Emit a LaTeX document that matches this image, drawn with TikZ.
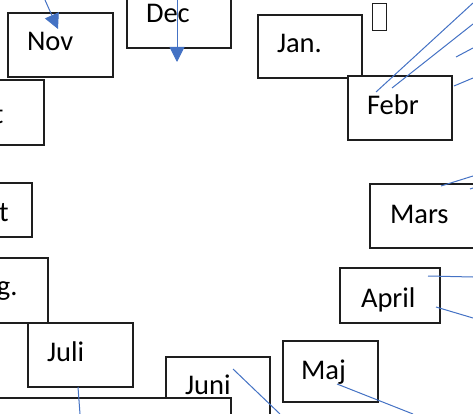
\documentclass[tikz,border=0pt]{standalone}
\usepackage{fontspec}
\setmainfont{Carlito}
\usetikzlibrary{arrows.meta}
\definecolor{linkblue}{RGB}{68,114,196}
\definecolor{boxline}{RGB}{30,30,30}
\begin{document}
\begin{tikzpicture}[x=1pt,y=-1pt,
  box/.style={draw=boxline, line width=1.3pt, fill=white, anchor=north west, inner sep=0pt, outer sep=0pt},
  lbl/.style={font=\fontsize{28.5}{30}\selectfont, anchor=base west, inner sep=0pt, outer sep=0pt},
  conn/.style={draw=linkblue, line width=1pt},
  tip/.style={-{Triangle[length=15pt,width=15pt]}}]
\useasboundingbox (0,0) rectangle (473,414);
\clip (0,0) rectangle (473,414);
% top row
\node[box, minimum width=104pt, minimum height=68pt] (decbox) at (127,-20) {};
\node[lbl] (dec) at (146,23) {Dec};
\node[box, minimum width=105pt, minimum height=64pt] (novbox) at (8,13) {};
\node[lbl] (nov) at (27,51) {Nov};
\node[box, minimum width=104pt, minimum height=63pt] (janbox) at (258,15) {};
\node[lbl] (jan) at (277,53) {Jan.};
\node[box, minimum width=104pt, minimum height=64pt] (febbox) at (348,76) {};
\node[lbl] (feb) at (367,115) {Febr};
\node[box, line width=1pt, minimum width=14pt, minimum height=27pt] (tofu) at (372,4) {};
% left column
\node[box, minimum width=104pt, minimum height=65pt] (tboxa) at (-60,80) {};
\node[lbl] (ta) at (-6,124) {t};
\node[box, minimum width=92pt, minimum height=54pt] (tboxb) at (-60,183) {};
\node[lbl] (tb) at (-1,221) {t};
\node[box, minimum width=108pt, minimum height=65pt] (gbox) at (-60,258) {};
\node[lbl] (g) at (-3,295) {g.};
\node[box, minimum width=105pt, minimum height=64pt] (julbox) at (28,323) {};
\node[lbl] (jul) at (47,361) {Juli};
% bottom
\node[box, minimum width=104pt, minimum height=80pt] (junbox) at (166,357) {};
\node[lbl] (jun) at (185,394) {Juni};
\node[box, minimum width=291pt, minimum height=40pt] (botbox) at (-60,398) {};
\node[box, minimum width=95pt, minimum height=61pt] (majbox) at (283,341) {};
\node[lbl] (maj) at (301,379) {Maj};
% right column
\node[box, minimum width=100pt, minimum height=55pt] (aprbox) at (340,268) {};
\node[lbl] (apr) at (361,307) {April};
\node[box, minimum width=130pt, minimum height=64pt] (marbox) at (370,184) {};
\node[lbl] (mar) at (390,223) {Mars};
% connector end points
\coordinate (novs) at (45,0);
\coordinate (nove) at (58,29);
\coordinate (decs) at (177,0);
\coordinate (dece) at (177,62);
\coordinate (fa1) at (376,92);  \coordinate (fb1) at (473,3);
\coordinate (fa2) at (392,88);  \coordinate (fb2) at (473,24);
\coordinate (fa3) at (456,57);  \coordinate (fb3) at (473,48);
\coordinate (fa4) at (454,86);  \coordinate (fb4) at (473,78);
\coordinate (ma1) at (441,186); \coordinate (mb1) at (473,176);
\coordinate (ma2) at (470,189); \coordinate (mb2) at (473,188);
\coordinate (aa1) at (428,276); \coordinate (ab1) at (473,277);
\coordinate (aa2) at (436,307); \coordinate (ab2) at (473,318);
\coordinate (mja) at (337,384); \coordinate (mjb) at (413,414);
\coordinate (jna) at (233,369); \coordinate (jnb) at (280,414);
\coordinate (jla) at (78,387);  \coordinate (jlb) at (80,414);
% connectors
\draw[conn, tip, linkblue] (novs) -- (nove);
\draw[conn, tip, linkblue] (decs) -- (dece);
\draw[conn] (fa1) -- (fb1);
\draw[conn] (fa2) -- (fb2);
\draw[conn] (fa3) -- (fb3);
\draw[conn] (fa4) -- (fb4);
\draw[conn] (ma1) -- (mb1);
\draw[conn] (ma2) -- (mb2);
\draw[conn] (aa1) -- (ab1);
\draw[conn] (aa2) -- (ab2);
\draw[conn] (mja) -- (mjb);
\draw[conn] (jna) -- (jnb);
\draw[conn] (jla) -- (jlb);
\end{tikzpicture}
\end{document}
